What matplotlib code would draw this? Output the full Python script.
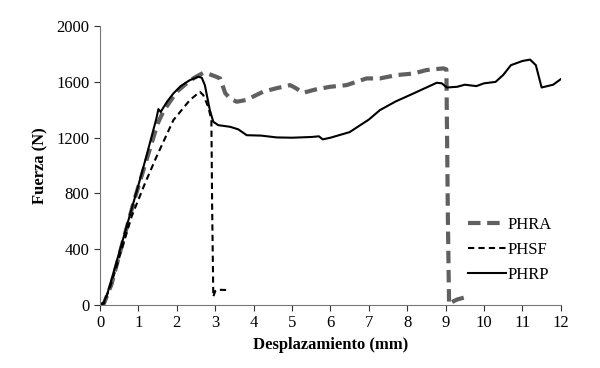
import matplotlib.pyplot as plt

plt.rcParams['font.family'] = ['Liberation Serif', 'DejaVu Serif']

# PHRA (gray thick dashed)
phra_x = [0, 0.1, 0.3, 0.6, 0.9, 1.21, 1.5, 1.65, 2.0, 2.34, 2.52, 2.69, 2.8, 3.0,
          3.13, 3.26, 3.39, 3.56, 3.8, 4.25, 4.6, 4.95, 5.07, 5.29, 5.6, 5.99, 6.42,
          6.94, 7.29, 7.72, 8.16, 8.5, 8.94, 9.02, 9.06, 9.09, 9.15, 9.3, 9.5]
phra_y = [0, 10, 150, 460, 760, 1040, 1300, 1390, 1530, 1610, 1640, 1665, 1660, 1640,
          1625, 1520, 1480, 1458, 1470, 1530, 1555, 1577, 1560, 1522, 1545, 1565, 1577,
          1625, 1625, 1649, 1660, 1685, 1697, 1690, 600, 5, 20, 40, 55]

# PHSF (black fine dashed)
phsf_x = [0, 0.1, 0.3, 0.56, 0.82, 1.17, 1.47, 1.91, 2.34, 2.6, 2.69, 2.82, 2.9, 2.92,
          2.95, 3.0, 3.05, 3.3]
phsf_y = [0, 10, 160, 394, 633, 872, 1063, 1326, 1470, 1529, 1505, 1420, 1330, 700,
          60, 100, 110, 108]

# PHRP (black solid)
phrp_x = [0, 0.1, 0.2, 0.4, 0.7, 1.0, 1.21, 1.47, 1.52, 1.58, 1.75, 1.91, 2.1, 2.34, 2.56,
          2.65, 2.73, 2.86, 2.95, 3.08, 3.39, 3.6, 3.82, 4.2, 4.6, 5.0, 5.5, 5.7, 5.8,
          6.0, 6.5, 7.0, 7.29, 7.7, 8.16, 8.5, 8.77, 8.9, 9.03, 9.3, 9.5, 9.8, 10.0,
          10.3, 10.5, 10.7, 11.0, 11.2, 11.35, 11.5, 11.8, 12.0]
phrp_y = [0, 20, 90, 280, 570, 860, 1070, 1340, 1405, 1385, 1460, 1517, 1570, 1613, 1637,
          1630, 1577, 1398, 1314, 1290, 1278, 1260, 1218, 1215, 1202, 1200, 1205, 1210, 1188,
          1200, 1240, 1330, 1398, 1460, 1517, 1560, 1594, 1590, 1560, 1565, 1580, 1570, 1590,
          1600, 1650, 1720, 1750, 1760, 1720, 1560, 1580, 1620]

x_ticks = list(range(0, 13))
y_ticks = [0, 400, 800, 1200, 1600, 2000]

fig = plt.figure(figsize=(6, 3.68), dpi=100)
ax = fig.add_axes([0.1667, 0.171, 0.768, 0.758])

ax.plot(phra_x, phra_y, color='#606060', lw=3, dashes=(3, 1.6), label='PHRA')
ax.plot(phsf_x, phsf_y, color='black', lw=1.5, dashes=(3, 2), label='PHSF')
ax.plot(phrp_x, phrp_y, color='black', lw=1.5, label='PHRP')

ax.set_xlim(0, 12)
ax.set_ylim(0, 2000)
ax.set_xticks(x_ticks)
ax.set_yticks(y_ticks)
ax.tick_params(direction='out', length=4, labelsize=12, colors='#333333', labelcolor='black')
for s in ['top', 'right']:
    ax.spines[s].set_visible(False)
for s in ['left', 'bottom']:
    ax.spines[s].set_color('#777777')

ax.set_xlabel('Desplazamiento (mm)', fontsize=12, fontweight='bold')
ax.set_ylabel('Fuerza (N)', fontsize=12, fontweight='bold', labelpad=6)

ax.legend(loc='upper left', bbox_to_anchor=(0.765, 0.37), frameon=False, fontsize=12,
          handlelength=2.3, handletextpad=0.1, labelspacing=0.55)

fig.savefig('out.png')
